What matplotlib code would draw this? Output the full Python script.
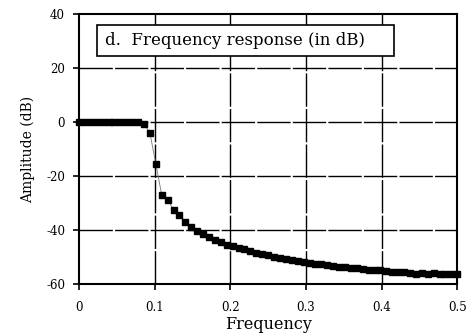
import numpy as np
import matplotlib
matplotlib.use("Agg")
import matplotlib.pyplot as plt
from matplotlib.patches import Rectangle

# Frequency samples (fraction of sampling rate), 65 bins from 0 to 0.5
n_bins = 65
frequency = np.linspace(0.0, 0.5, n_bins)

# Magnitude of the filter's response, in decibels
amplitude_db = [
    0.0, 0.0, 0.0, 0.0, 0.0, 0.0, 0.0, 0.0, 0.0, 0.0,
    0.0, -0.7, -4.0, -15.5, -27.0, -28.8, -32.5, -34.4, -36.9, -38.8,
    -40.3, -41.6, -42.6, -43.6, -44.5, -45.5, -46.1, -46.6, -47.2, -47.8,
    -48.4, -48.9, -49.4, -49.9, -50.3, -50.7, -51.1, -51.5, -51.8, -52.2,
    -52.5, -52.8, -53.1, -53.4, -53.7, -53.9, -54.2, -54.0, -54.3, -54.8,
    -55.0, -55.0, -55.2, -55.4, -55.5, -55.6, -55.8, -56.2, -55.9, -56.3,
    -56.1, -56.3, -56.4, -56.4, -56.5,
]

x_ticks = [0, 0.1, 0.2, 0.3, 0.4, 0.5]
x_tick_labels = ["0", "0.1", "0.2", "0.3", "0.4", "0.5"]
y_ticks = [-60, -40, -20, 0, 20, 40]
y_tick_labels = ["-60", "-40", "-20", "0", "20", "40"]
panel_title = "d.  Frequency response (in dB)"

plt.rcParams["font.family"] = ["DejaVu Serif"]

fig = plt.figure(figsize=(4.70, 3.36), dpi=100)
ax = fig.add_axes([0.168, 0.155, 0.805, 0.803])

ax.set_xlim(0, 0.5)
ax.set_ylim(-60, 40)

# dashed grid at the interior ticks
dash = (0, (24, 1.6))
for xv in x_ticks[1:-1]:
    ax.axvline(xv, color="black", lw=1.0, linestyle=dash, zorder=1)
for yv in y_ticks[1:-1]:
    ax.axhline(yv, color="black", lw=1.0, linestyle=dash, zorder=1)

ax.plot(frequency, amplitude_db, color="#777777", lw=0.6, zorder=3, clip_on=False)
ax.plot(frequency, amplitude_db, linestyle="none", marker="s", markersize=4.8,
        color="black", zorder=4, clip_on=False)

ax.set_xticks(x_ticks)
ax.set_xticklabels(x_tick_labels)
ax.set_yticks(y_ticks)
ax.set_yticklabels(y_tick_labels)
ax.tick_params(direction="out", length=4, width=1.2, labelsize=8.5)
ax.tick_params(axis="x", pad=8)
ax.tick_params(axis="y", pad=6)
for sp in ax.spines.values():
    sp.set_linewidth(1.5)

ax.set_xlabel("Frequency", fontsize=11.5, labelpad=2)
ax.set_ylabel("Amplitude (dB)", fontsize=10, labelpad=8)

# boxed panel title
box = Rectangle((0.047, 0.846), 0.785, 0.113, transform=ax.transAxes,
                facecolor="white", edgecolor="black", lw=1.2, zorder=5)
ax.add_patch(box)
ax.text(0.069, 0.903, panel_title, transform=ax.transAxes, fontsize=12,
        ha="left", va="center", zorder=6)

fig.savefig("out.png", dpi=100)
